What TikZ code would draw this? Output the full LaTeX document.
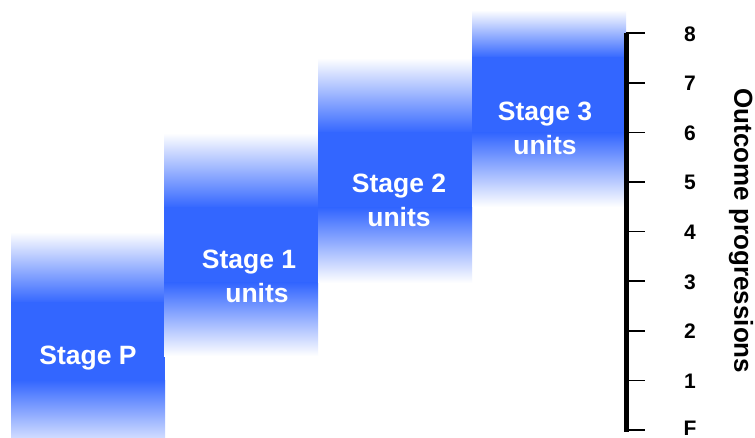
\documentclass[tikz,border=0pt]{standalone}
\usepackage{fontspec}
\setmainfont{Liberation Sans}
\definecolor{stageblue}{RGB}{51,102,255}
\tikzset{
  stagetext/.style={text=white,font=\bfseries\fontsize{26.5}{34}\selectfont,align=center,inner sep=0pt},
  ticklabel/.style={font=\bfseries\fontsize{21}{24}\selectfont,inner sep=0pt},
  axistitle/.style={font=\bfseries\fontsize{26}{30}\selectfont,rotate=-90,inner sep=0pt},
  tickline/.style={line width=1.5pt},
  axisline/.style={line width=5pt}
}
\newcommand{\stageblock}[5]{%
  \shade[top color=white,middle color=stageblue!35!white,bottom color=stageblue] (#1,#3) rectangle (#2,#4);
  \fill[stageblue] (#1,#4-0.5) rectangle (#2,#5+0.5);
}
\newcommand{\stagebottom}[4]{%
  \shade[top color=stageblue,middle color=stageblue!40!white,bottom color=white] (#1,#3) rectangle (#2,#4);
}
\begin{document}
\begin{tikzpicture}[x=1pt,y=-1pt]
\useasboundingbox (0,0) rectangle (755,438);
\clip (0,0) rectangle (755,438);
\fill[white] (0,0) rectangle (755,438);
% Stage P
\stageblock{11}{165}{232}{303}{380}
\stagebottom{11}{165}{380}{455}
% Stage 1
\stageblock{164}{318}{133}{208}{283}
\stagebottom{164}{318}{283}{356}
% Stage 2
\stageblock{318}{472}{58}{133}{208}
\stagebottom{318}{472}{208}{283}
% Stage 3
\stageblock{472}{626}{10}{58}{133}
\stagebottom{472}{626}{133}{207}
% labels
\node[stagetext] (sp) at (88,358) {Stage P};
\node[stagetext] (s1) at (249,276) {Stage 1\\\hspace*{16pt}units};
\node[stagetext] (s2) at (399,200) {Stage 2\\units};
\node[stagetext] (s3) at (545,128) {Stage 3\\units};
% axis
\draw[axisline] (626,33) -- (626,432);
\foreach \lab [count=\i from 0] in {F,1,2,3,4,5,6,7,8} {
  \draw[tickline] (626,430-\i*49.6) -- (645,430-\i*49.6);
}
\foreach \lab [count=\i from 0] in {1,2,3,4,5,6,7,8} {
  \node[ticklabel] (t\lab) at (690,381-\i*49.6) {\lab};
}
\node[ticklabel] (tF) at (690,428) {F};
\node[axistitle] (title) at (741,231) {Outcome progressions};
\end{tikzpicture}
\end{document}
